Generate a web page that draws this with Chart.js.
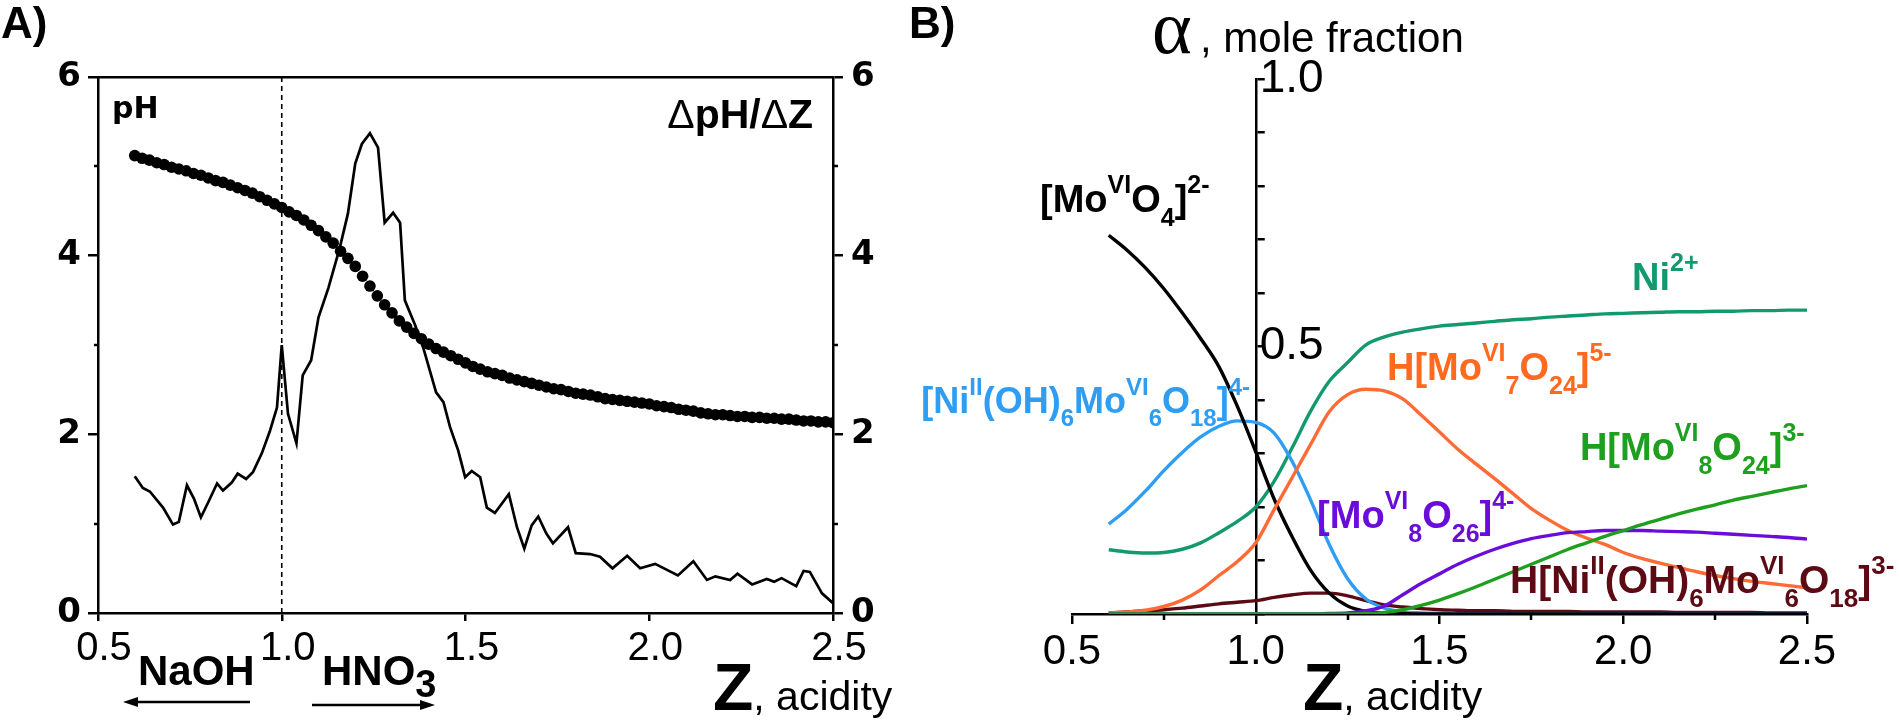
<!DOCTYPE html>
<html>
<head>
<meta charset="utf-8">
<script src="https://cdn.jsdelivr.net/npm/chart.js@4.4.1/dist/chart.umd.min.js"></script>
<style>
  html, body { margin: 0; padding: 0; background: #fff; }
  #wrap { position: relative; width: 1900px; height: 724px; overflow: hidden; background: #fff; }
  canvas { position: absolute; top: 0; }
  #chartA { left: 0; }
  #chartB { left: 900px; }
</style>
</head>
<body>
<div id="wrap">
  <canvas id="chartA" width="950" height="724"></canvas>
  <canvas id="chartB" width="1000" height="724"></canvas>
</div>
<script>
const SANS = '"Liberation Sans", Arial, Helvetica, sans-serif';
const WIDE = '"DejaVu Sans", "Liberation Sans", sans-serif';
const SERIF = '"Liberation Serif", "DejaVu Serif", serif';

// ---- data ----
const zTicks = [0.5, 1.0, 1.5, 2.0, 2.5];
const pHTicks = [0, 2, 4, 6];
const pHMinor = [1, 3, 5];
const zMinorB = [0.75, 1.25, 1.75, 2.25];

// panel A: titration curve (dots)
const zPH = [0.60, 0.62, 0.64, 0.66, 0.68, 0.70, 0.72, 0.74, 0.76, 0.78,
  0.80, 0.82, 0.84, 0.86, 0.88, 0.90, 0.92, 0.94, 0.96, 0.98,
  1.00, 1.02, 1.04, 1.06, 1.08, 1.10, 1.12, 1.14, 1.16, 1.18,
  1.20, 1.22, 1.24, 1.26, 1.28, 1.30, 1.32, 1.34, 1.36, 1.38,
  1.40, 1.42, 1.44, 1.46, 1.48, 1.50, 1.52, 1.54, 1.56, 1.58,
  1.60, 1.62, 1.64, 1.66, 1.68, 1.70, 1.72, 1.74, 1.76, 1.78,
  1.80, 1.82, 1.84, 1.86, 1.88, 1.90, 1.92, 1.94, 1.96, 1.98,
  2.00, 2.02, 2.04, 2.06, 2.08, 2.10, 2.12, 2.14, 2.16, 2.18,
  2.20, 2.22, 2.24, 2.26, 2.28, 2.30, 2.32, 2.34, 2.36, 2.38,
  2.40, 2.42, 2.44, 2.46, 2.48, 2.50];
const pH = [5.12, 5.09, 5.07, 5.04, 5.02, 4.99, 4.97, 4.95, 4.92, 4.90,
  4.87, 4.84, 4.82, 4.79, 4.76, 4.73, 4.70, 4.66, 4.62, 4.58,
  4.54, 4.49, 4.45, 4.40, 4.34, 4.28, 4.21, 4.14, 4.05, 3.97,
  3.88, 3.77, 3.66, 3.55, 3.45, 3.36, 3.27, 3.20, 3.13, 3.07,
  3.01, 2.96, 2.92, 2.88, 2.84, 2.80, 2.76, 2.73, 2.70, 2.68,
  2.66, 2.63, 2.61, 2.59, 2.57, 2.55, 2.53, 2.51, 2.50, 2.48,
  2.46, 2.45, 2.44, 2.42, 2.40, 2.39, 2.38, 2.37, 2.36, 2.35,
  2.34, 2.32, 2.31, 2.30, 2.28, 2.27, 2.26, 2.24, 2.23, 2.22,
  2.22, 2.21, 2.20, 2.20, 2.19, 2.19, 2.18, 2.18, 2.17, 2.17,
  2.16, 2.15, 2.15, 2.14, 2.14, 2.13];

// panel A: dpH/dZ (line)
const zDeriv = [0.600, 0.622, 0.641, 0.677, 0.704, 0.720, 0.742, 0.761, 0.780, 0.800,
  0.824, 0.840, 0.864, 0.880, 0.903, 0.922, 0.946, 0.968, 0.987, 1.000,
  1.017, 1.040, 1.057, 1.080, 1.100, 1.127, 1.158, 1.180, 1.200, 1.218,
  1.240, 1.262, 1.280, 1.303, 1.322, 1.335, 1.363, 1.385, 1.420, 1.440,
  1.458, 1.480, 1.499, 1.517, 1.540, 1.558, 1.580, 1.618, 1.640, 1.660,
  1.680, 1.698, 1.720, 1.738, 1.779, 1.800, 1.839, 1.866, 1.900, 1.940,
  1.975, 2.016, 2.078, 2.120, 2.157, 2.180, 2.220, 2.240, 2.280, 2.320,
  2.340, 2.360, 2.400, 2.420, 2.437, 2.470, 2.500];
const dDeriv = [1.53, 1.40, 1.36, 1.18, 0.99, 1.02, 1.43, 1.28, 1.07, 1.24,
  1.45, 1.37, 1.46, 1.56, 1.50, 1.58, 1.79, 2.04, 2.30, 3.00,
  2.23, 1.90, 2.66, 2.83, 3.31, 3.64, 4.09, 4.47, 5.03, 5.25,
  5.37, 5.21, 4.37, 4.48, 4.37, 3.50, 3.22, 2.97, 2.47, 2.36,
  2.08, 1.82, 1.52, 1.59, 1.52, 1.18, 1.12, 1.33, 0.96, 0.72,
  0.98, 1.08, 0.89, 0.78, 0.96, 0.67, 0.66, 0.63, 0.50, 0.64,
  0.50, 0.55, 0.42, 0.58, 0.37, 0.41, 0.37, 0.44, 0.32, 0.38,
  0.35, 0.39, 0.30, 0.47, 0.46, 0.22, 0.11];

// equivalence marker at Z = 1.0
const eqZ = [1.0, 1.0];
const eqY = [0, 6];

// panel B: species distribution
const zB = [0.60, 0.65, 0.70, 0.75, 0.80, 0.85, 0.90, 0.95, 1.00, 1.05,
  1.10, 1.15, 1.20, 1.25, 1.30, 1.35, 1.40, 1.45, 1.50, 1.55,
  1.60, 1.65, 1.70, 1.75, 1.80, 1.85, 1.90, 1.95, 2.00, 2.05,
  2.10, 2.15, 2.20, 2.25, 2.30, 2.35, 2.40, 2.45, 2.50];
const alphaMoO4 = [0.708, 0.680, 0.647, 0.608, 0.563, 0.515, 0.462, 0.388, 0.303, 0.215,
  0.143, 0.081, 0.039, 0.015, 0.005, 0.002, 0.001, 0, 0, 0,
  0, 0, 0, 0, 0, 0, 0, 0, 0, 0,
  0, 0, 0, 0, 0, 0, 0, 0, 0];
const alphaNiMo6 = [0.168, 0.196, 0.230, 0.268, 0.302, 0.331, 0.351, 0.361, 0.358, 0.338,
  0.284, 0.212, 0.130, 0.066, 0.028, 0.011, 0.004, 0.002, 0.001, 0,
  0, 0, 0, 0, 0, 0, 0, 0, 0, 0,
  0, 0, 0, 0, 0, 0, 0, 0, 0];
const alphaNi = [0.120, 0.116, 0.114, 0.115, 0.121, 0.133, 0.152, 0.173, 0.200, 0.248,
  0.312, 0.380, 0.435, 0.470, 0.503, 0.518, 0.527, 0.533, 0.538, 0.541,
  0.544, 0.547, 0.550, 0.552, 0.555, 0.557, 0.559, 0.561, 0.562, 0.563,
  0.564, 0.565, 0.565, 0.566, 0.566, 0.567, 0.567, 0.568, 0.568];
const alphaMo7 = [0.002, 0.004, 0.007, 0.014, 0.026, 0.045, 0.072, 0.098, 0.133, 0.195,
  0.256, 0.318, 0.378, 0.410, 0.420, 0.417, 0.402, 0.372, 0.340, 0.308,
  0.280, 0.253, 0.225, 0.197, 0.175, 0.156, 0.142, 0.130, 0.115, 0.104,
  0.095, 0.087, 0.079, 0.072, 0.066, 0.061, 0.057, 0.053, 0.049];
const alphaMo8O26 = [0, 0, 0, 0, 0, 0, 0, 0, 0, 0,
  0, 0, 0.001, 0.002, 0.006, 0.015, 0.036, 0.057, 0.075, 0.093,
  0.108, 0.121, 0.132, 0.141, 0.147, 0.152, 0.154, 0.156, 0.156, 0.156,
  0.155, 0.154, 0.153, 0.151, 0.149, 0.147, 0.145, 0.143, 0.140];
const alphaMo8O24 = [0, 0, 0, 0, 0, 0, 0, 0, 0, 0,
  0, 0, 0, 0, 0.001, 0.003, 0.008, 0.016, 0.026, 0.038,
  0.051, 0.065, 0.079, 0.093, 0.107, 0.121, 0.133, 0.145, 0.156, 0.167,
  0.177, 0.187, 0.196, 0.204, 0.213, 0.220, 0.227, 0.234, 0.240];
const alphaHNiMo6 = [0.002, 0.004, 0.006, 0.008, 0.011, 0.015, 0.019, 0.022, 0.025, 0.031,
  0.036, 0.039, 0.039, 0.034, 0.025, 0.017, 0.013, 0.010, 0.008, 0.007,
  0.006, 0.006, 0.005, 0.005, 0.005, 0.005, 0.004, 0.004, 0.004, 0.004,
  0.004, 0.003, 0.003, 0.003, 0.003, 0.003, 0.002, 0.002, 0.002];

// species labels: anchor in data units (left end, baseline)
const speciesLabels = [
  { z: 0.413, a: 0.751, size: 38, color: '#000000', segs: [['[Mo', 0], ['VI', 1], ['O', 0], ['4', -1], [']', 0], ['2-', 1]] },
  { z: 2.024, a: 0.606, size: 38, color: '#129a6e', segs: [['Ni', 0], ['2+', 1]] },
  { z: 1.357, a: 0.437, size: 38, color: '#ff6a1f', segs: [['H[Mo', 0], ['VI', 1], ['7', -1], ['O', 0], ['24', -1], [']', 0], ['5-', 1]] },
  { z: 0.090, a: 0.376, size: 36, color: '#2f9df2', segs: [['[Ni', 0], ['II', 1], ['(OH)', 0], ['6', -1], ['Mo', 0], ['VI', 1], ['6', -1], ['O', 0], ['18', -1], [']', 0], ['4-', 1]] },
  { z: 1.167, a: 0.161, size: 38, color: '#6a0dd8', segs: [['[Mo', 0], ['VI', 1], ['8', -1], ['O', 0], ['26', -1], [']', 0], ['4-', 1]] },
  { z: 1.882, a: 0.288, size: 38, color: '#1f9f1f', segs: [['H[Mo', 0], ['VI', 1], ['8', -1], ['O', 0], ['24', -1], [']', 0], ['3-', 1]] },
  { z: 1.692, a: 0.039, size: 39, color: '#5c0a14', segs: [['H[Ni', 0], ['II', 1], ['(OH)', 0], ['6', -1], ['Mo', 0], ['VI', 1], ['6', -1], ['O', 0], ['18', -1], [']', 0], ['3-', 1]] }
];

// ---- helpers ----
function pts(xs, ys) {
  return xs.map(function (x, i) { return { x: x, y: ys[i] }; });
}

/** Draws text made of segments [text, shift(1 sup, -1 sub), weight, size]. */
function drawRich(ctx, x, y, segs, o) {
  const size = o.size || 38;
  const fam = o.family || SANS;
  const fontOf = function (s) {
    const sz = s[3] || (s[1] ? Math.round(size * 0.66) : size);
    return (s[2] || 'bold') + ' ' + sz + 'px ' + fam;
  };
  let w = 0;
  segs.forEach(function (s) { ctx.font = fontOf(s); w += ctx.measureText(s[0]).width; });
  let cx = o.align === 'right' ? x - w : x;
  ctx.save();
  ctx.fillStyle = o.color || '#000';
  ctx.textAlign = 'left';
  ctx.textBaseline = 'alphabetic';
  segs.forEach(function (s) {
    ctx.font = fontOf(s);
    const dy = s[1] > 0 ? -size * 0.5 : (s[1] < 0 ? (o.sub || size * 0.38) : 0);
    ctx.fillText(s[0], cx, y + dy);
    cx += ctx.measureText(s[0]).width;
  });
  ctx.restore();
}

function arrow(ctx, x1, x2, y) {
  const dir = Math.sign(x2 - x1);
  ctx.save();
  ctx.strokeStyle = '#000';
  ctx.fillStyle = '#000';
  ctx.lineWidth = 2.5;
  ctx.beginPath();
  ctx.moveTo(x1, y);
  ctx.lineTo(x2 - dir * 10, y);
  ctx.stroke();
  ctx.beginPath();
  ctx.moveTo(x2, y);
  ctx.lineTo(x2 - dir * 15, y - 5);
  ctx.lineTo(x2 - dir * 15, y + 5);
  ctx.closePath();
  ctx.fill();
  ctx.restore();
}

// short outward ticks at unlabeled values
const minorTicks = {
  id: 'minorTicks',
  afterDraw: function (chart, args, opts) {
    const ctx = chart.ctx;
    (opts.sets || []).forEach(function (set) {
      const s = chart.scales[set.scale];
      ctx.save();
      ctx.strokeStyle = '#000';
      ctx.lineWidth = 2.5;
      set.values.forEach(function (v) {
        const p = Math.round(s.getPixelForValue(v));
        ctx.beginPath();
        if (s.isHorizontal()) {
          ctx.moveTo(p, s.top);
          ctx.lineTo(p, s.top + set.len);
        } else if (s.position === 'left') {
          ctx.moveTo(s.right, p);
          ctx.lineTo(s.right - set.len, p);
        } else {
          ctx.moveTo(s.left, p);
          ctx.lineTo(s.left + set.len, p);
        }
        ctx.stroke();
      });
      ctx.restore();
    });
  }
};

const axisLine = { color: '#000', width: 2.5 };
const tickGrid = function (len) {
  return { drawOnChartArea: false, color: '#000', lineWidth: 2.5, tickLength: len };
};
const fixedTicks = function (vals) {
  return function (s) { s.ticks = vals.map(function (v) { return { value: v }; }); };
};

// ---- panel A ----
const notesA = {
  id: 'notesA',
  afterDraw: function (chart) {
    const ctx = chart.ctx;
    const x = chart.scales.x, y = chart.scales.y;
    const b = chart.chartArea.bottom;
    drawRich(ctx, 1, 38, [['A)', 0]], { size: 44 });
    drawRich(ctx, x.getPixelForValue(0.538), y.getPixelForValue(5.54), [['pH', 0]], { size: 30, family: WIDE });
    drawRich(ctx, x.getPixelForValue(2.446), y.getPixelForValue(5.43),
      [['\u0394', 0, 'normal'], ['pH/', 0], ['\u0394', 0, 'normal'], ['Z', 0]], { size: 41, align: 'right' });
    drawRich(ctx, 138, b + 72, [['NaOH', 0]], { size: 42 });
    drawRich(ctx, 322, b + 72, [['HNO', 0], ['3', -1, 'bold', 38]], { size: 42, sub: 12 });
    arrow(ctx, 250, 123, b + 89);
    arrow(ctx, 312, 435, b + 92);
    drawRich(ctx, 713, b + 97, [['Z', 0, 'bold', 66], [', acidity', 0, 'normal', 41]], { size: 66 });
  }
};

new Chart(document.getElementById('chartA'), {
  type: 'scatter',
  data: {
    datasets: [
      {
        data: pts(zPH, pH), yAxisID: 'y', showLine: false,
        pointRadius: 5.8, pointBackgroundColor: '#000', pointBorderWidth: 0, pointBorderColor: '#000'
      },
      {
        data: pts(zDeriv, dDeriv), yAxisID: 'y2', showLine: true, borderColor: '#000',
        borderWidth: 2.7, pointRadius: 0, tension: 0
      },
      {
        data: pts(eqZ, eqY), yAxisID: 'y', showLine: true, borderColor: '#000',
        borderWidth: 1.6, borderDash: [5, 4], pointRadius: 0
      }
    ]
  },
  options: {
    responsive: false, animation: false, devicePixelRatio: 1, events: [],
    layout: { padding: { left: 0, right: 0, top: 77, bottom: 0 } },
    plugins: {
      legend: { display: false }, tooltip: { enabled: false },
      minorTicks: { sets: [{ scale: 'y', values: pHMinor, len: 4 }, { scale: 'y2', values: pHMinor, len: 5 }] }
    },
    scales: {
      x: {
        type: 'linear', position: 'bottom', min: 0.5, max: 2.5,
        afterFit: function (s) { s.height = 111; },
        afterBuildTicks: fixedTicks(zTicks),
        border: axisLine, grid: tickGrid(8),
        ticks: {
          color: '#000', font: { family: SANS, size: 40 }, padding: 4, labelOffset: 6,
          maxRotation: 0, autoSkip: false,
          callback: function (v) { return Number(v).toFixed(1); }
        }
      },
      xTop: {
        type: 'linear', position: 'top', min: 0.5, max: 2.5,
        afterFit: function (s) { s.height = 0; },
        border: axisLine, grid: { display: false, drawTicks: false }, ticks: { display: false }
      },
      y: {
        position: 'left', min: 0, max: 6,
        afterFit: function (s) { s.width = 98; },
        afterBuildTicks: fixedTicks(pHTicks),
        border: axisLine, grid: tickGrid(10),
        ticks: { color: '#000', font: { family: WIDE, size: 34, weight: 'bold' }, padding: 7, autoSkip: false }
      },
      y2: {
        position: 'right', min: 0, max: 6,
        afterFit: function (s) { s.width = 117; },
        afterBuildTicks: fixedTicks(pHTicks),
        border: axisLine, grid: tickGrid(10),
        ticks: { color: '#000', font: { family: WIDE, size: 34, weight: 'bold' }, padding: 8, autoSkip: false }
      }
    }
  },
  plugins: [minorTicks, notesA]
});

// ---- panel B ----
// the alpha axis crosses the Z axis at Z = 1.0
const moveYAxis = {
  id: 'moveYAxis',
  afterLayout: function (chart) {
    const ys = chart.scales.y;
    const px = chart.scales.x.getPixelForValue(1.0);
    const w = ys.width;
    ys.left = px;
    ys.right = px + w;
  }
};

const notesB = {
  id: 'notesB',
  afterDraw: function (chart) {
    const ctx = chart.ctx;
    const x = chart.scales.x, y = chart.scales.y;
    const b = chart.chartArea.bottom;
    drawRich(ctx, 9, 38, [['B)', 0]], { size: 44 });
    drawRich(ctx, 252, 53, [['\u03B1', 0, 'normal']], { size: 76, family: SERIF });
    drawRich(ctx, 300, 52, [[', mole fraction', 0, 'normal']], { size: 42 });
    speciesLabels.forEach(function (l) {
      drawRich(ctx, x.getPixelForValue(l.z), y.getPixelForValue(l.a), l.segs,
        { size: l.size, color: l.color, sub: Math.round(l.size * 0.37) });
    });
    drawRich(ctx, 403, b + 96, [['Z', 0, 'bold', 66], [', acidity', 0, 'normal', 41]], { size: 66 });
  }
};

function curve(xs, ys, color) {
  return {
    data: pts(xs, ys), showLine: true, borderColor: color, borderWidth: 3.4,
    pointRadius: 0, tension: 0.4, cubicInterpolationMode: 'monotone'
  };
}

new Chart(document.getElementById('chartB'), {
  type: 'scatter',
  data: {
    datasets: [
      curve(zB, alphaMo8O24, '#1f9f1f'),
      curve(zB, alphaMo8O26, '#6a0dd8'),
      curve(zB, alphaMo7, '#ff6a35'),
      curve(zB, alphaMoO4, '#000000'),
      curve(zB, alphaNiMo6, '#2f9df2'),
      curve(zB, alphaHNiMo6, '#5c0a14'),
      curve(zB, alphaNi, '#129a6e')
    ]
  },
  options: {
    responsive: false, animation: false, devicePixelRatio: 1, events: [],
    layout: { padding: { left: 172, right: 0, top: 79, bottom: 0 } },
    plugins: {
      legend: { display: false }, tooltip: { enabled: false },
      minorTicks: { sets: [{ scale: 'x', values: zMinorB, len: 6 }] }
    },
    scales: {
      x: {
        type: 'linear', position: 'bottom', min: 0.5, max: 2.5,
        afterFit: function (s) { s.height = 110; },
        afterBuildTicks: fixedTicks(zTicks),
        border: axisLine, grid: tickGrid(10),
        ticks: {
          color: '#000', font: { family: SANS, size: 42 }, padding: 3,
          maxRotation: 0, autoSkip: false,
          callback: function (v) { return Number(v).toFixed(1); }
        }
      },
      y: {
        position: 'right', min: 0, max: 1,
        afterFit: function (s) { s.width = 93; },
        border: axisLine, grid: tickGrid(9),
        ticks: {
          stepSize: 0.1, autoSkip: false, color: '#000', font: { family: SANS, size: 46 }, padding: -5,
          callback: function (v) {
            return (Math.abs(v - 0.5) < 1e-6 || Math.abs(v - 1) < 1e-6) ? Number(v).toFixed(1) : '';
          }
        }
      }
    }
  },
  plugins: [moveYAxis, minorTicks, notesB]
});
</script>
</body>
</html>
